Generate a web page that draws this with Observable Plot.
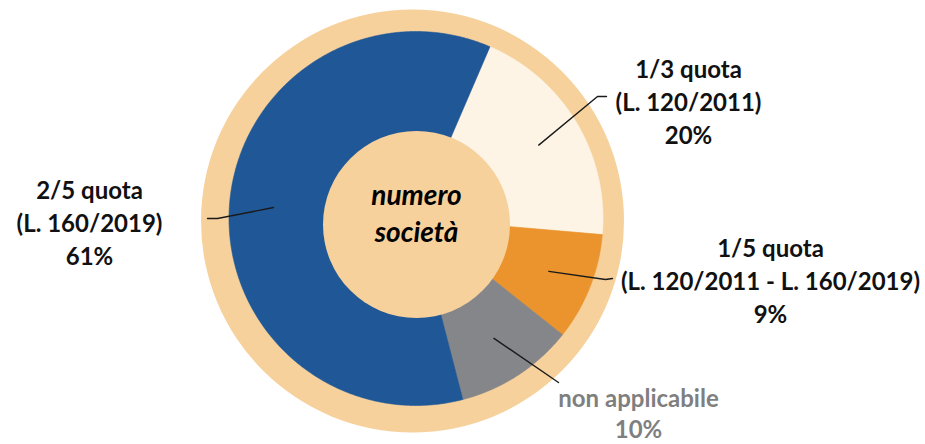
<!DOCTYPE html>
<html><head><meta charset="utf-8">
<script src="https://cdn.jsdelivr.net/npm/d3@7"></script>
<script src="https://cdn.jsdelivr.net/npm/@observablehq/plot@0.6"></script>
<style>body{margin:0;background:#fff} svg{display:block}</style>
</head><body><div id="chart"></div>
<script>
// ---- data ----
const categories = ["1/3 quota\n(L. 120/2011)", "1/5 quota\n(L. 120/2011 - L. 160/2019)", "non applicabile", "2/5 quota\n(L. 160/2019)"];
const shares = [19.9, 9.3, 10.3, 60.5];
const percentLabels = ["20%", "9%", "10%", "61%"];
const centerLabel = "numero\nsocietà";

// ---- styles / layout ----
const sliceColors = ["#FDF4E5", "#EB942D", "#858689", "#1F5797"];
const labelColors = ["#111111", "#111111", "#7F7F7F", "#111111"];
const ringColor = "#F6D19C";
const donut = {cx: 415.5, cy: 218, r: 187};
const ring = {cx: 412, cy: 220.5, r: 211.5};
const hub = {cx: 416, cy: 224, r: 93.5};
const startDeg = 23.3;
const leaderInnerR = 143;
const labelOffsets = [[272.5, -118], [354.5, 61], [222.5, 194], [-326.5, 3]];
const labelLineHeights = [1.36, 1.36, 1.28, 1.36];
const leaderElbows = [[181.5, -122], [189.5, 61], [142.5, 164], [-198.5, 0]];
const leaderEnds = [[190.5, -122], [196.5, 60], [142.5, 164], [-208.5, 0]];

const W = 925, H = 444;
const rad = Math.PI / 180;
const pie = d3.pie().sort(null).value(d => d)
  .startAngle(startDeg * rad).endAngle(startDeg * rad + 2 * Math.PI);
const arcs = pie(shares);
const polar = (a, r, c) => ({x: c.cx + r * Math.sin(a), y: c.cy - r * Math.cos(a)});

const sliceMarks = arcs.map((a, i) => {
  const pts = [{x: donut.cx, y: donut.cy}];
  const n = Math.max(4, Math.ceil((a.endAngle - a.startAngle) / (0.4 * rad)));
  for (let k = 0; k <= n; k++) pts.push(polar(a.startAngle + (a.endAngle - a.startAngle) * k / n, donut.r, donut));
  pts.push({x: donut.cx, y: donut.cy});
  return Plot.line(pts, {x: "x", y: "y", fill: sliceColors[i], stroke: sliceColors[i], strokeWidth: 0.6, curve: "linear"});
});

const leaderMarks = arcs.map((a, i) => {
  const mid = (a.startAngle + a.endAngle) / 2;
  const p0 = polar(mid, leaderInnerR, donut);
  const pts = [p0,
    {x: donut.cx + leaderElbows[i][0], y: donut.cy + leaderElbows[i][1]},
    {x: donut.cx + leaderEnds[i][0], y: donut.cy + leaderEnds[i][1]}];
  return Plot.line(pts, {x: "x", y: "y", stroke: "#1a1a1a", strokeWidth: 1.4, curve: "linear"});
});

const labelMarks = categories.map((c, i) => Plot.text([{
    x: donut.cx + labelOffsets[i][0], y: donut.cy + labelOffsets[i][1], t: c + "\n" + percentLabels[i]}],
  {x: "x", y: "y", text: "t", fill: labelColors[i], fontSize: 24, fontWeight: "bold",
   fontFamily: "Lato, 'Open Sans', sans-serif", lineHeight: labelLineHeights[i], textAnchor: "middle", lineAnchor: "middle"}));

const chart = Plot.plot({
  width: W, height: H, margin: 0,
  x: {domain: [0, W], range: [0, W], axis: null},
  y: {domain: [0, H], range: [0, H], axis: null},
  style: {background: "white"},
  marks: [
    Plot.dot([ring], {x: "cx", y: "cy", r: ring.r, fill: ringColor}),
    ...sliceMarks,
    Plot.dot([hub], {x: "cx", y: "cy", r: hub.r, fill: ringColor}),
    ...leaderMarks,
    ...labelMarks,
    Plot.text([{x: hub.cx, y: hub.cy - 13, t: centerLabel}], {x: "x", y: "y", text: "t", fill: "#000",
      fontSize: 28, fontWeight: "bold", fontStyle: "italic", fontFamily: "Lato, 'Open Sans', sans-serif",
      lineHeight: 1.35, textAnchor: "middle", lineAnchor: "middle"})
  ]
});
document.getElementById("chart").appendChild(chart);
</script>
</body></html>
